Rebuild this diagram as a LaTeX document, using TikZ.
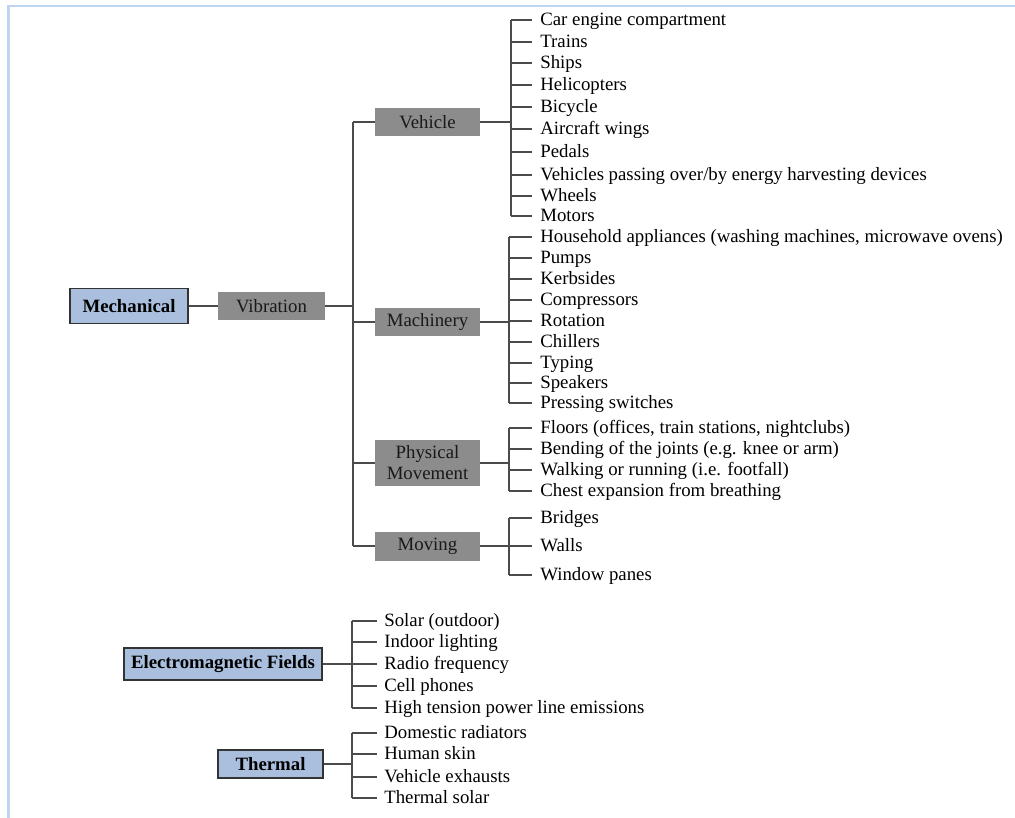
\documentclass[tikz,border=0pt]{standalone}
\usepackage{fontspec}
\setmainfont{Liberation Serif}
\usetikzlibrary{positioning}

\definecolor{boxblue}{RGB}{169,191,221}
\definecolor{boxgray}{RGB}{140,140,140}
\definecolor{linegray}{RGB}{75,75,75}
\definecolor{frameblue}{RGB}{189,213,240}

\begin{document}
\begin{tikzpicture}[x=0.02cm, y=-0.02cm,
    font=\fontsize{10.7}{12}\selectfont,
    topbox/.style={draw=black!80, fill=boxblue, line width=0.8pt, inner sep=0pt,
        font=\fontsize{10.7}{12}\selectfont\bfseries, text=black},
    midbox/.style={fill=boxgray, text=black!90, inner sep=0pt, align=center,
        minimum width=2.1cm, minimum height=0.58cm},
    leaf/.style={anchor=west, inner sep=0pt, text=black,
        text height=0.7em, text depth=0.1em},
    link/.style={linegray, line width=1pt}]
        \useasboundingbox (0,0) rectangle (1015,818);
        % we draw the frame
        \draw[frameblue, line width=1.2pt] (8.5,818) -- (8.5,6) -- (1015,6);

        % we draw the mechanical branch
        \node[topbox, minimum width=2.36cm, minimum height=0.7cm] (mech) at (129,306) {Mechanical};
        \node[midbox, minimum width=2.14cm] (vibration) at (271.5,306) {Vibration};
        \node[midbox] (vehicle) at (427.5,122) {Vehicle};
        \node[midbox] (machinery) at (427.5,322) {Machinery};
        \node[midbox, minimum height=0.92cm] (physical) at (427.5,463) {Physical\\Movement};
        \node[midbox] (moving) at (427.5,546) {Moving};

        \coordinate (trunk) at (353,306);
        \draw[link] (mech) -- (vibration);
        \draw[link] (vibration) -- (trunk);
        \draw[link] (trunk |- vehicle) -- (trunk |- moving);
        \foreach \b in {vehicle, machinery, physical, moving}
            \draw[link] (trunk |- \b) -- (\b);

        % we add the vehicle sources
        \coordinate (vehT) at (511,122);
        \draw[link] (vehicle) -- (vehT);
        \foreach \y/\t [count=\i] in {20/Car engine compartment, 42/Trains, 63/Ships,
            85/Helicopters, 107/Bicycle, 129/Aircraft wings, 152/Pedals,
            175/{Vehicles passing over/by energy harvesting devices}, 196/Wheels, 216/Motors} {
            \node[leaf] (veh\i) at (540,\y) {\t};
            \draw[link] (vehT |- veh\i.west) -- ([xshift=-0.16cm]veh\i.west);
        }
        \draw[link] (vehT |- veh1.west) -- (vehT |- veh10.west);

        % we add the machinery sources
        \coordinate (macT) at (509,322);
        \draw[link] (machinery) -- (macT);
        \foreach \y/\t [count=\i] in {237/{Household appliances (washing machines, microwave ovens)},
            258/Pumps, 279/Kerbsides, 300/Compressors, 321/Rotation, 342/Chillers,
            363/Typing, 383/Speakers, 403/Pressing switches} {
            \node[leaf] (mac\i) at (540,\y) {\t};
            \draw[link] (macT |- mac\i.west) -- ([xshift=-0.16cm]mac\i.west);
        }
        \draw[link] (macT |- mac1.west) -- (macT |- mac9.west);

        % we add the physical movement sources
        \coordinate (phyT) at (509,463);
        \draw[link] (physical) -- (phyT);
        \foreach \y/\t [count=\i] in {428/{Floors (offices, train stations, nightclubs)},
            449/Bending of the joints (e.g. knee or arm), 470/Walking or running (i.e. footfall),
            491/Chest expansion from breathing} {
            \node[leaf] (phy\i) at (540,\y) {\t};
            \draw[link] (phyT |- phy\i.west) -- ([xshift=-0.16cm]phy\i.west);
        }
        \draw[link] (phyT |- phy1.west) -- (phyT |- phy4.west);

        % we add the moving structures
        \coordinate (movT) at (509,546);
        \draw[link] (moving) -- (movT);
        \foreach \y/\t [count=\i] in {518/Bridges, 546/Walls, 575/Window panes} {
            \node[leaf] (mov\i) at (540,\y) {\t};
            \draw[link] (movT |- mov\i.west) -- ([xshift=-0.16cm]mov\i.west);
        }
        \draw[link] (movT |- mov1.west) -- (movT |- mov3.west);

        % we draw the electromagnetic branch
        \node[topbox, minimum width=3.96cm, minimum height=0.64cm] (emf) at (223,664) {Electromagnetic Fields};
        \coordinate (emT) at (352,664);
        \draw[link] (emf) -- (emT);
        \foreach \y/\t [count=\i] in {621/Solar (outdoor), 642/Indoor lighting, 664/Radio frequency,
            686/Cell phones, 708/High tension power line emissions} {
            \node[leaf] (em\i) at (384,\y) {\t};
            \draw[link] (emT |- em\i.west) -- ([xshift=-0.14cm]em\i.west);
        }
        \draw[link] (emT |- em1.west) -- (emT |- em5.west);

        % we draw the thermal branch
        \node[topbox, minimum width=2.1cm, minimum height=0.56cm] (thermal) at (270.5,764) {Thermal};
        \coordinate (thT) at (352,764);
        \draw[link] (thermal) -- (thT);
        \foreach \y/\t [count=\i] in {733/Domestic radiators, 754/Human skin,
            777/Vehicle exhausts, 798/Thermal solar} {
            \node[leaf] (th\i) at (384,\y) {\t};
            \draw[link] (thT |- th\i.west) -- ([xshift=-0.14cm]th\i.west);
        }
        \draw[link] (thT |- th1.west) -- (thT |- th4.west);
    \end{tikzpicture}
\end{document}
